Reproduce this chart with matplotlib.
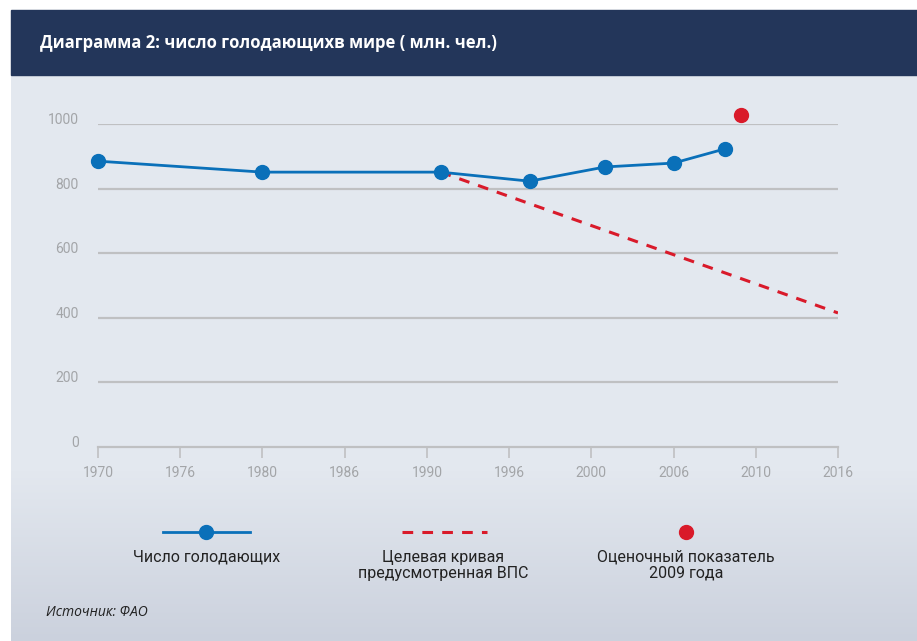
import matplotlib
matplotlib.use('Agg')
import matplotlib.pyplot as plt
import numpy as np
from matplotlib.colors import to_rgb

# Данные
tick_years = [1970, 1976, 1980, 1986, 1990, 1996, 2000, 2006, 2010, 2016]
hungry_years = [1970, 1980, 1991, 1997, 2001, 2006, 2008.5]
hungry_vals = [885, 851, 851, 823, 867, 879, 923]
target_years = [1991, 2016]
target_vals = [851, 415]
est_year = [2009.3]
est_val = [1028]
y_ticks = [0, 200, 400, 600, 800, 1000]

title = 'Диаграмма 2: число голодающихв мире ( млн. чел.)'
leg_labels = ['Число голодающих', 'Целевая кривая\nпредусмотренная ВПС', 'Оценочный показатель\n2009 года']
source = 'Источник: ФАО'

blue = '#0a70b9'
red = '#d91a2a'
grid_c = '#bfc0c2'
tick_c = '#a3a5a8'
narrow = ['Roboto', 'DejaVu Sans']

W, H = 917, 641
fig = plt.figure(figsize=(W / 100, H / 100), dpi=100)
fig.patch.set_facecolor('white')

# фон (пиксельные координаты)
bg = fig.add_axes([0, 0, 1, 1])
bg.set_xlim(0, W)
bg.set_ylim(H, 0)
bg.axis('off')
top_c = np.array(to_rgb('#e3e8ef'))
bot_c = np.array(to_rgb('#cbd1dd'))
rows = np.arange(75, H)
t = np.clip((rows - 470) / (H - 470), 0, 1)
grad = top_c[None, :] * (1 - t[:, None]) + bot_c[None, :] * t[:, None]
bg.imshow(grad[:, None, :], extent=[11, W, H, 75], aspect='auto', zorder=0)
bg.add_patch(plt.Rectangle((11, 10), W - 11, 65, color='#23365a', zorder=1))
bg.text(40, 43, title, color='white', fontsize=12, fontweight='bold',
        family=['Open Sans', 'DejaVu Sans'], va='center', ha='left', zorder=2)

# легенда
bg.plot([163, 250], [532, 532], color=blue, lw=2)
bg.plot([206], [532], 'o', color=blue, ms=10)
bg.plot([402, 487], [532, 532], color=red, lw=2.2, dashes=(3.5, 3))
bg.plot([686], [532], 'o', color=red, ms=10)
for xc, lab in zip([207, 443, 686], leg_labels):
    bg.text(xc, 550, lab, ha='center', va='top', fontsize=11.5, color='#222222',
            family=narrow, linespacing=1.08)
bg.text(46, 613, source, ha='left', va='center', fontsize=10, color='#222222',
        style='italic', family=['Open Sans', 'DejaVu Sans'])

# график
ax = fig.add_axes([98 / W, (H - 447) / H, 740 / W, 323 / H])
ax.patch.set_alpha(0)
pos = lambda yrs: np.interp(yrs, tick_years, np.arange(len(tick_years)))

for yv in y_ticks[1:]:
    ax.axhline(yv, color=grid_c, lw=1.6, zorder=1)
ax.plot(pos(target_years), target_vals, color=red, lw=2.2, dashes=(3.5, 3), zorder=2)
ax.plot(pos(hungry_years), hungry_vals, color=blue, lw=2, marker='o', ms=10,
        zorder=3, clip_on=False)
ax.plot(pos(est_year), est_val, 'o', color=red, ms=10, zorder=3, clip_on=False)

ax.set_xlim(0, len(tick_years) - 1)
ax.set_ylim(0, 1000)
for s in ['top', 'right', 'left']:
    ax.spines[s].set_visible(False)
ax.spines['bottom'].set_color(grid_c)
ax.spines['bottom'].set_linewidth(1.6)
ax.set_xticks(np.arange(len(tick_years)))
ax.set_xticklabels([str(y) for y in tick_years], family=narrow)
ax.tick_params(axis='x', direction='out', length=8, width=1.2, color=grid_c,
               labelcolor=tick_c, labelsize=10, pad=6)
ax.set_yticks(y_ticks)
ax.set_yticklabels([str(v) for v in y_ticks], family=narrow)
ax.tick_params(axis='y', length=0, labelcolor=tick_c, labelsize=10, pad=14)
for lbl in ax.get_yticklabels():
    lbl.set_va('baseline')

fig.savefig('out.png', dpi=100)
